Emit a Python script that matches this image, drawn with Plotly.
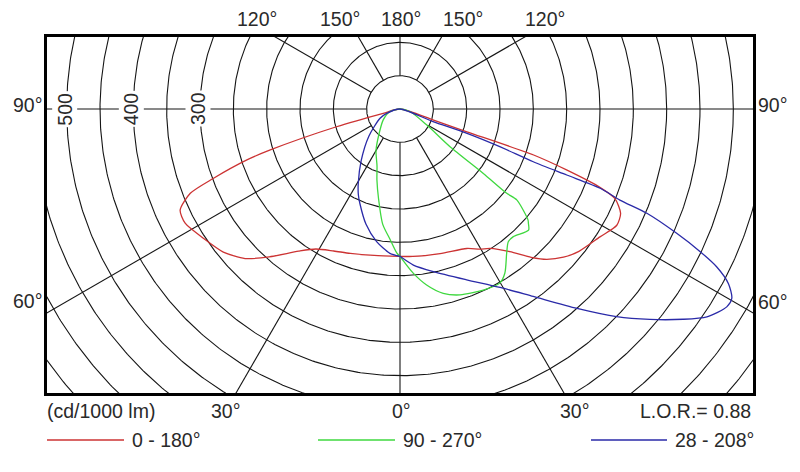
import numpy as np
import plotly.graph_objects as go

# ---------------- data (intensity in cd/1000 lm vs gamma angle in degrees) ----------------
red_left_gamma = [0, 10, 19, 25, 31, 35.5, 41.5, 46, 51, 56.7, 62, 65.3, 68.1, 69.6, 71.6, 72.5, 74.4, 75.6, 90]
red_left_I = [221, 223, 229, 235, 245, 262, 296, 323, 341, 353, 365, 363, 339, 299, 242, 204, 99, 26, 0]
red_right_gamma = [0, 5, 15.5, 25.6, 29.7, 32.9, 37.6, 41.5, 44.3, 47.8, 51.5, 57.4, 61.8, 64.7, 67.4, 68.6, 69.9, 71.0, 71.2, 71.7, 90]
red_right_I = [221, 222, 225, 232, 242, 249, 270, 297, 315, 331, 343, 356, 369, 366, 349, 322, 266, 212, 106, 53, 0]

green_left_gamma = [0, 1.3, 4.4, 8.5, 13.5, 18, 22, 30, 40, 57, 75, 90]
green_left_I = [221, 216, 196, 175, 138, 112, 92, 72, 49, 30, 16, 0]
green_right_gamma = [0, 4.6, 8.6, 13.2, 17.9, 24.7, 29.8, 32.6, 36.5, 39.2, 41.6, 46.7, 48.3, 49.1, 52.1, 51.7, 52.3, 53, 59.1, 74.9, 90]
green_right_I = [221, 247, 267, 284, 293, 299, 301, 292, 269, 257, 256, 265, 258, 254, 222, 204, 158, 94, 47, 16, 0]

blue_left_gamma = [0, 4, 10, 16.5, 23, 25.9, 29.3, 36.9, 48.9, 65.1, 72, 90]
blue_left_I = [221, 217, 202, 180, 154, 143, 128, 97, 62, 33, 21, 0]
blue_right_gamma = [0, 4.9, 11.6, 21.3, 29.3, 35.4, 41.6, 46.2, 49.9, 53.4, 55.9, 58.8, 60.3, 62, 63.5, 64.6,
                    65.8, 67.1, 67.5, 68.4, 68.4, 68.4, 69.3, 70, 69.1, 90]
blue_right_I = [221, 235, 249, 275, 307, 345, 400, 450, 490, 529, 556, 573, 573, 558, 531, 498,
                455, 402, 357, 323, 269, 215, 160, 106, 53, 0]

series_names = ["0 - 180°", "90 - 270°", "28 - 208°"]
series_colors = ["#cc3333", "#3fd83f", "#2a2aa8"]

circle_radii = list(range(50, 750, 50))
radial_angles = [0, 30, 60, 90, 120, 150, 180]
intensity_labels = [300, 400, 500]
top_angle_labels = ["120°", "150°", "180°", "150°", "120°"]
bottom_angle_labels = ["30°", "0°", "30°"]
unit_label = "(cd/1000 lm)"
lor_label = "L.O.R.= 0.88"

# ---------------- layout geometry ----------------
W_FIG, H_FIG = 800, 472
L, T, W, H = 47, 37, 706, 356
CX, CY = 400, 109          # pixel position of polar centre
K = 1.5                    # cd per pixel
x_range = [-(CX - L) * K, (L + W - CX) * K]
y_range = [-(T + H - CY) * K, (CY - T) * K]

FONT = "Liberation Sans, Arial, sans-serif"
FS = 19.5
TXT = "#2a2a2a"


def px2paper(px, py):
    return (px - L) / W, (T + H - py) / H


def half_xy(gamma, inten, side):
    g = np.radians(np.asarray(gamma, dtype=float))
    r = np.asarray(inten, dtype=float)
    return side * r * np.sin(g), -r * np.cos(g)


fig = go.Figure()

# grid circles
gx, gy = [], []
t = np.linspace(0, 2 * np.pi, 721)
for r in circle_radii:
    gx += list(r * np.cos(t)) + [None]
    gy += list(r * np.sin(t)) + [None]
# radial lines (start at the inner circle)
for a in radial_angles:
    for side in ([1] if a in (0, 180) else [-1, 1]):
        ar = np.radians(a)
        gx += [side * 50 * np.sin(ar), side * 1000 * np.sin(ar), None]
        gy += [-50 * np.cos(ar), -1000 * np.cos(ar), None]
fig.add_trace(go.Scatter(x=gx, y=gy, mode="lines", line=dict(color="#151515", width=1.1),
                         hoverinfo="skip", showlegend=False))

curves = [
    (red_left_gamma, red_left_I, red_right_gamma, red_right_I),
    (green_left_gamma, green_left_I, green_right_gamma, green_right_I),
    (blue_left_gamma, blue_left_I, blue_right_gamma, blue_right_I),
]
for (lg, li, rg, ri), name, col in zip(curves, series_names, series_colors):
    lx, ly = half_xy(lg, li, -1)
    rx, ry = half_xy(rg, ri, 1)
    x = list(lx[::-1]) + list(rx)
    y = list(ly[::-1]) + list(ry)
    fig.add_trace(go.Scatter(x=x, y=y, mode="lines", name=name,
                             line=dict(color=col, width=1.3, shape="spline", smoothing=0.7),
                             showlegend=False))

ann = []


def add_text(text, px, py, xanchor="center"):
    xp, yp = px2paper(px, py)
    ann.append(dict(text=text, x=xp, y=yp, xref="paper", yref="paper", xanchor=xanchor,
                    yanchor="middle", showarrow=False, font=dict(family=FONT, size=FS, color=TXT)))


# angle labels
for txt, px in zip(top_angle_labels, [257, 340, 401, 463, 545]):
    add_text(txt, px, 19)
add_text("90°", 28, 105)
add_text("90°", 773, 105)
add_text("60°", 28, 301)
add_text("60°", 773, 302)
for txt, px in zip(bottom_angle_labels, [226, 401, 575]):
    add_text(txt, px, 411)
add_text(unit_label, 45, 411, "left")
add_text(lor_label, 753, 411, "right")

# intensity labels on the 90° line
for v in intensity_labels:
    ann.append(dict(text=str(v), x=-v, y=0, xref="x", yref="y", xshift=-2, textangle=-90,
                    showarrow=False, bgcolor="white", borderpad=1,
                    font=dict(family=FONT, size=FS, color=TXT)))

# custom legend
shapes = []
legend_items = [(47, 124, 130), (318, 395, 401), (591, 667, 673)]
for (x0, x1, xt), name, col in zip(legend_items, series_names, series_colors):
    p0 = px2paper(x0, 440)
    p1 = px2paper(x1, 440)
    shapes.append(dict(type="line", xref="paper", yref="paper", x0=p0[0], y0=p0[1], x1=p1[0], y1=p1[1],
                       line=dict(color=col, width=1.3)))
    add_text(name, xt, 440, "left")

axis_common = dict(showgrid=False, zeroline=False, showticklabels=False, ticks="",
                   showline=True, mirror=True, linecolor="black", linewidth=2.5, fixedrange=True)

fig.update_layout(
    width=W_FIG, height=H_FIG,
    margin=dict(l=L, r=W_FIG - L - W, t=T, b=H_FIG - T - H),
    paper_bgcolor="white", plot_bgcolor="white",
    xaxis=dict(range=x_range, **axis_common),
    yaxis=dict(range=y_range, **axis_common),
    annotations=ann, shapes=shapes, showlegend=False,
    font=dict(family=FONT, size=FS, color=TXT),
)

fig.write_html("out.html")
